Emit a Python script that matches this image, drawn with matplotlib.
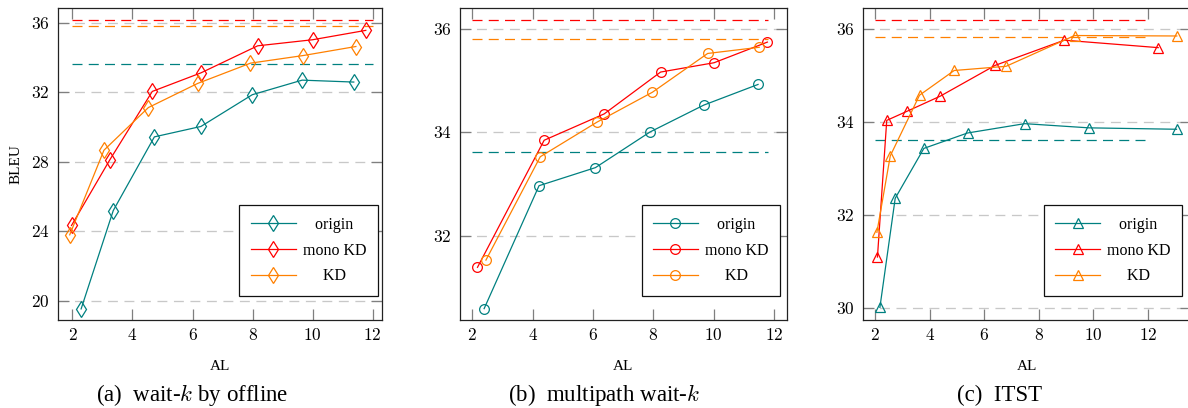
import matplotlib
matplotlib.use("Agg")
import matplotlib.pyplot as plt
from matplotlib.ticker import FuncFormatter

plt.rcParams['font.family'] = ['Liberation Serif', 'DejaVu Serif']
plt.rcParams['mathtext.fontset'] = 'cm'

# ---------------- data ----------------
series_names = ["origin", "mono KD", "KD"]
colors = {"origin": "#008080", "mono KD": "#ff0000", "KD": "#ff8000"}

# (a) wait-k by offline
a_origin_x = [2.29, 3.36, 4.73, 6.28, 7.99, 9.65, 11.37]
a_origin_y = [19.52, 25.19, 29.44, 30.04, 31.87, 32.71, 32.60]
a_mono_x = [1.97, 3.24, 4.66, 6.28, 8.17, 10.00, 11.77]
a_mono_y = [24.33, 28.10, 32.06, 33.13, 34.69, 35.04, 35.58]
a_kd_x = [1.91, 3.05, 4.53, 6.17, 7.93, 9.69, 11.44]
a_kd_y = [23.79, 28.67, 31.13, 32.52, 33.69, 34.13, 34.65]
a_base = {"origin": 33.63, "mono KD": 36.19, "KD": 35.85}
a_base_span = [2, 12]

# (b) multipath wait-k
b_origin_x = [2.39, 4.21, 6.08, 7.89, 9.67, 11.47]
b_origin_y = [30.59, 32.97, 33.32, 34.01, 34.53, 34.93]
b_mono_x = [2.17, 4.38, 6.37, 8.24, 10.01, 11.78]
b_mono_y = [31.39, 33.85, 34.36, 35.17, 35.35, 35.75]
b_kd_x = [2.45, 4.25, 6.13, 7.97, 9.80, 11.51]
b_kd_y = [31.53, 33.53, 34.20, 34.78, 35.53, 35.65]
b_base = {"origin": 33.62, "mono KD": 36.17, "KD": 35.81}
b_base_span = [2, 11.8]

# (c) ITST
c_origin_x = [2.18, 2.74, 3.79, 5.39, 7.48, 9.84, 13.04]
c_origin_y = [30.02, 32.36, 33.43, 33.76, 33.96, 33.87, 33.84]
c_mono_x = [2.09, 2.43, 3.19, 4.39, 6.40, 8.93, 12.37]
c_mono_y = [31.10, 34.03, 34.23, 34.55, 35.21, 35.75, 35.59]
c_kd_x = [2.07, 2.56, 3.63, 4.90, 6.80, 9.31, 13.05]
c_kd_y = [31.63, 33.27, 34.57, 35.10, 35.19, 35.85, 35.84]
c_base = {"origin": 33.62, "mono KD": 36.19, "KD": 35.81}
c_base_span = [2, 12]

x_ticks = [2, 4, 6, 8, 10, 12]
a_yticks = [20, 24, 28, 32, 36]
b_yticks = [32, 34, 36]
c_yticks = [30, 32, 34, 36]

captions = ["(a)  wait-$k$ by offline", "(b)  multipath wait-$k$", "(c)  ITST"]
x_label = "AL"
y_label = "BLEU"

# ---------------- figure ----------------
W, H = 1188, 408
fig = plt.figure(figsize=(W / 100, H / 100), dpi=100)

def fx(px):
    return px / W

def fy(py):
    return 1 - py / H

top_px, bot_px = 8, 320
panels = [
    dict(left=58, right=382, xlim=(1.52, 12.31), ylim=(18.88, 36.87), yticks=a_yticks,
         data=[(a_origin_x, a_origin_y), (a_mono_x, a_mono_y), (a_kd_x, a_kd_y)],
         base=a_base, span=a_base_span, marker='d', ms=8.2, leg_x=0.987, cap_x=192),
    dict(left=460, right=786.7, xlim=(1.59, 12.42), ylim=(30.37, 36.41), yticks=b_yticks,
         data=[(b_origin_x, b_origin_y), (b_mono_x, b_mono_y), (b_kd_x, b_kd_y)],
         base=b_base, span=b_base_span, marker='o', ms=7.0, leg_x=0.9795, cap_x=604),
    dict(left=862.7, right=1191, xlim=(1.55, 13.57), ylim=(29.75, 36.44), yticks=c_yticks,
         data=[(c_origin_x, c_origin_y), (c_mono_x, c_mono_y), (c_kd_x, c_kd_y)],
         base=c_base, span=c_base_span, marker='^', ms=7.2, leg_x=0.9735, cap_x=1000),
]

legend_labels = ["   origin", "mono KD", "     KD"]

tick_fmt = FuncFormatter(lambda v, p: r"$%d$" % v)

for i, P in enumerate(panels):
    ax = fig.add_axes([fx(P['left']), fy(bot_px), fx(P['right'] - P['left']),
                       (bot_px - top_px) / H])
    ax.set_xlim(*P['xlim'])
    ax.set_ylim(*P['ylim'])
    ax.set_xticks(x_ticks)
    ax.set_yticks(P['yticks'])
    ax.xaxis.set_major_formatter(tick_fmt)
    ax.yaxis.set_major_formatter(tick_fmt)
    ax.tick_params(direction='in', length=8, width=0.9, color='#7f7f7f',
                   top=True, right=True, labelsize=12.5, pad=6)
    for sp in ax.spines.values():
        sp.set_color('#222222')
        sp.set_linewidth(0.9)
    ax.yaxis.grid(True, color='#c8c8c8', linewidth=0.95, linestyle=(0, (7.5, 5.0)))
    ax.set_axisbelow(True)

    # baseline dashed lines
    for name in series_names:
        yb = P['base'][name]
        ax.plot(P['span'], [yb, yb], color=colors[name], linewidth=0.9,
                linestyle=(0, (8, 5)), zorder=2)

    handles = []
    for name, (xs, ys) in zip(series_names, P['data']):
        h, = ax.plot(xs, ys, color=colors[name], linewidth=0.9, marker=P['marker'],
                     markersize=P['ms'], markerfacecolor='none', markeredgewidth=0.9,
                     zorder=3)
        handles.append(h)

    leg = ax.legend(handles, legend_labels, loc='lower right',
                    bbox_to_anchor=(P['leg_x'], 0.077), borderaxespad=0,
                    fontsize=11.5, handlelength=2.8, handletextpad=0.45,
                    labelspacing=0.62, borderpad=0.72, fancybox=False,
                    framealpha=1, edgecolor='#111111')
    leg.get_frame().set_linewidth(0.9)

    ax.set_xlabel(x_label, fontsize=11)
    ax.xaxis.set_label_coords(0.5, -0.128)
    if i == 0:
        ax.set_ylabel(y_label, fontsize=11)
        ax.yaxis.set_label_coords(-0.108, 0.5)

    fig.text(fx(P['cap_x']), fy(395), captions[i], ha='center', va='center',
             fontsize=16.5)

fig.savefig("out.png", dpi=100)
